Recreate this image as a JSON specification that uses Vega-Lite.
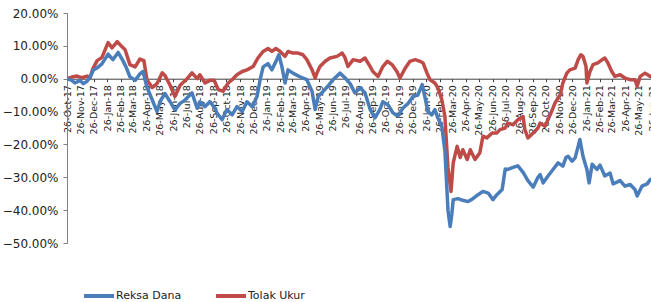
{
  "$schema": "https://vega.github.io/schema/vega-lite/v6.json",
  "autosize": {"type": "none"},
  "padding": {"left": 67, "top": 13, "right": 0, "bottom": 59},
  "width": 585,
  "height": 230,
  "background": "white",
  "config": {"view": {"stroke": null}, "font": "DejaVu Sans"},
  "data": {"values": [
    {"date":"2017-10-26","series":"Tolak Ukur","value":0},
    {"date":"2017-11-06","series":"Tolak Ukur","value":0.005},
    {"date":"2017-11-18","series":"Tolak Ukur","value":0.008},
    {"date":"2017-11-29","series":"Tolak Ukur","value":0.003},
    {"date":"2017-12-11","series":"Tolak Ukur","value":0.008},
    {"date":"2017-12-18","series":"Tolak Ukur","value":0.003},
    {"date":"2017-12-24","series":"Tolak Ukur","value":0.03},
    {"date":"2018-01-03","series":"Tolak Ukur","value":0.055},
    {"date":"2018-01-14","series":"Tolak Ukur","value":0.065},
    {"date":"2018-01-28","series":"Tolak Ukur","value":0.11},
    {"date":"2018-02-06","series":"Tolak Ukur","value":0.094},
    {"date":"2018-02-18","series":"Tolak Ukur","value":0.113},
    {"date":"2018-03-01","series":"Tolak Ukur","value":0.097},
    {"date":"2018-03-08","series":"Tolak Ukur","value":0.088},
    {"date":"2018-03-19","series":"Tolak Ukur","value":0.043},
    {"date":"2018-03-31","series":"Tolak Ukur","value":0.036},
    {"date":"2018-04-11","series":"Tolak Ukur","value":0.06},
    {"date":"2018-04-20","series":"Tolak Ukur","value":0.055},
    {"date":"2018-04-27","series":"Tolak Ukur","value":-0.003},
    {"date":"2018-05-09","series":"Tolak Ukur","value":-0.027},
    {"date":"2018-05-20","series":"Tolak Ukur","value":-0.015},
    {"date":"2018-06-01","series":"Tolak Ukur","value":0.018},
    {"date":"2018-06-07","series":"Tolak Ukur","value":0.01},
    {"date":"2018-06-19","series":"Tolak Ukur","value":-0.02},
    {"date":"2018-06-30","series":"Tolak Ukur","value":-0.054},
    {"date":"2018-07-12","series":"Tolak Ukur","value":-0.02},
    {"date":"2018-07-28","series":"Tolak Ukur","value":0},
    {"date":"2018-08-08","series":"Tolak Ukur","value":0.018},
    {"date":"2018-08-20","series":"Tolak Ukur","value":0},
    {"date":"2018-08-26","series":"Tolak Ukur","value":0.012},
    {"date":"2018-09-07","series":"Tolak Ukur","value":-0.013},
    {"date":"2018-09-18","series":"Tolak Ukur","value":-0.005},
    {"date":"2018-09-28","series":"Tolak Ukur","value":-0.005},
    {"date":"2018-10-07","series":"Tolak Ukur","value":-0.033},
    {"date":"2018-10-18","series":"Tolak Ukur","value":-0.038},
    {"date":"2018-10-30","series":"Tolak Ukur","value":-0.013},
    {"date":"2018-11-08","series":"Tolak Ukur","value":-0.003},
    {"date":"2018-11-19","series":"Tolak Ukur","value":0.012},
    {"date":"2018-12-01","series":"Tolak Ukur","value":0.022},
    {"date":"2018-12-12","series":"Tolak Ukur","value":0.027},
    {"date":"2018-12-26","series":"Tolak Ukur","value":0.037},
    {"date":"2019-01-06","series":"Tolak Ukur","value":0.063},
    {"date":"2019-01-18","series":"Tolak Ukur","value":0.083},
    {"date":"2019-01-29","series":"Tolak Ukur","value":0.092},
    {"date":"2019-02-07","series":"Tolak Ukur","value":0.083},
    {"date":"2019-02-16","series":"Tolak Ukur","value":0.092},
    {"date":"2019-02-26","series":"Tolak Ukur","value":0.083},
    {"date":"2019-03-09","series":"Tolak Ukur","value":0.068},
    {"date":"2019-03-16","series":"Tolak Ukur","value":0.083},
    {"date":"2019-03-27","series":"Tolak Ukur","value":0.078},
    {"date":"2019-04-08","series":"Tolak Ukur","value":0.078},
    {"date":"2019-04-19","series":"Tolak Ukur","value":0.073},
    {"date":"2019-04-28","series":"Tolak Ukur","value":0.058},
    {"date":"2019-05-10","series":"Tolak Ukur","value":0.027},
    {"date":"2019-05-17","series":"Tolak Ukur","value":0.002},
    {"date":"2019-05-21","series":"Tolak Ukur","value":0.017},
    {"date":"2019-05-28","series":"Tolak Ukur","value":0.037},
    {"date":"2019-06-09","series":"Tolak Ukur","value":0.053},
    {"date":"2019-06-20","series":"Tolak Ukur","value":0.063},
    {"date":"2019-07-06","series":"Tolak Ukur","value":0.068},
    {"date":"2019-07-18","series":"Tolak Ukur","value":0.078},
    {"date":"2019-07-24","series":"Tolak Ukur","value":0.065},
    {"date":"2019-07-31","series":"Tolak Ukur","value":0.037},
    {"date":"2019-08-12","series":"Tolak Ukur","value":0.058},
    {"date":"2019-08-28","series":"Tolak Ukur","value":0.053},
    {"date":"2019-09-08","series":"Tolak Ukur","value":0.063},
    {"date":"2019-09-20","series":"Tolak Ukur","value":0.037},
    {"date":"2019-09-26","series":"Tolak Ukur","value":0.022},
    {"date":"2019-10-08","series":"Tolak Ukur","value":0.007},
    {"date":"2019-10-19","series":"Tolak Ukur","value":0.037},
    {"date":"2019-10-29","series":"Tolak Ukur","value":0.053},
    {"date":"2019-11-09","series":"Tolak Ukur","value":0.043},
    {"date":"2019-11-20","series":"Tolak Ukur","value":0.022},
    {"date":"2019-11-27","series":"Tolak Ukur","value":0.002},
    {"date":"2019-12-09","series":"Tolak Ukur","value":0.032},
    {"date":"2019-12-20","series":"Tolak Ukur","value":0.053},
    {"date":"2020-01-01","series":"Tolak Ukur","value":0.058},
    {"date":"2020-01-12","series":"Tolak Ukur","value":0.053},
    {"date":"2020-01-19","series":"Tolak Ukur","value":0.048},
    {"date":"2020-01-28","series":"Tolak Ukur","value":0.017},
    {"date":"2020-02-04","series":"Tolak Ukur","value":-0.003},
    {"date":"2020-02-15","series":"Tolak Ukur","value":-0.013},
    {"date":"2020-02-22","series":"Tolak Ukur","value":-0.028},
    {"date":"2020-03-02","series":"Tolak Ukur","value":-0.064},
    {"date":"2020-03-09","series":"Tolak Ukur","value":-0.115},
    {"date":"2020-03-11","series":"Tolak Ukur","value":-0.16},
    {"date":"2020-03-16","series":"Tolak Ukur","value":-0.27},
    {"date":"2020-03-23","series":"Tolak Ukur","value":-0.343},
    {"date":"2020-03-28","series":"Tolak Ukur","value":-0.256},
    {"date":"2020-04-06","series":"Tolak Ukur","value":-0.206},
    {"date":"2020-04-13","series":"Tolak Ukur","value":-0.24},
    {"date":"2020-04-19","series":"Tolak Ukur","value":-0.216},
    {"date":"2020-04-29","series":"Tolak Ukur","value":-0.246},
    {"date":"2020-05-06","series":"Tolak Ukur","value":-0.216},
    {"date":"2020-05-17","series":"Tolak Ukur","value":-0.246},
    {"date":"2020-05-28","series":"Tolak Ukur","value":-0.225},
    {"date":"2020-06-04","series":"Tolak Ukur","value":-0.175},
    {"date":"2020-06-13","series":"Tolak Ukur","value":-0.18},
    {"date":"2020-06-25","series":"Tolak Ukur","value":-0.165},
    {"date":"2020-07-06","series":"Tolak Ukur","value":-0.165},
    {"date":"2020-07-13","series":"Tolak Ukur","value":-0.155},
    {"date":"2020-07-25","series":"Tolak Ukur","value":-0.15},
    {"date":"2020-07-31","series":"Tolak Ukur","value":-0.135},
    {"date":"2020-08-12","series":"Tolak Ukur","value":-0.14},
    {"date":"2020-08-23","series":"Tolak Ukur","value":-0.125},
    {"date":"2020-09-04","series":"Tolak Ukur","value":-0.115},
    {"date":"2020-09-08","series":"Tolak Ukur","value":-0.155},
    {"date":"2020-09-15","series":"Tolak Ukur","value":-0.18},
    {"date":"2020-09-27","series":"Tolak Ukur","value":-0.165},
    {"date":"2020-10-08","series":"Tolak Ukur","value":-0.15},
    {"date":"2020-10-13","series":"Tolak Ukur","value":-0.135},
    {"date":"2020-10-24","series":"Tolak Ukur","value":-0.145},
    {"date":"2020-11-05","series":"Tolak Ukur","value":-0.11},
    {"date":"2020-11-16","series":"Tolak Ukur","value":-0.074},
    {"date":"2020-11-28","series":"Tolak Ukur","value":-0.049},
    {"date":"2020-12-04","series":"Tolak Ukur","value":-0.013},
    {"date":"2020-12-13","series":"Tolak Ukur","value":0.017},
    {"date":"2020-12-20","series":"Tolak Ukur","value":0.027},
    {"date":"2021-01-01","series":"Tolak Ukur","value":0.032},
    {"date":"2021-01-08","series":"Tolak Ukur","value":0.058},
    {"date":"2021-01-14","series":"Tolak Ukur","value":0.073},
    {"date":"2021-01-19","series":"Tolak Ukur","value":0.068},
    {"date":"2021-01-26","series":"Tolak Ukur","value":0.037},
    {"date":"2021-01-28","series":"Tolak Ukur","value":-0.013},
    {"date":"2021-02-04","series":"Tolak Ukur","value":0.022},
    {"date":"2021-02-11","series":"Tolak Ukur","value":0.043},
    {"date":"2021-02-22","series":"Tolak Ukur","value":0.048},
    {"date":"2021-03-04","series":"Tolak Ukur","value":0.058},
    {"date":"2021-03-10","series":"Tolak Ukur","value":0.063},
    {"date":"2021-03-17","series":"Tolak Ukur","value":0.048},
    {"date":"2021-03-26","series":"Tolak Ukur","value":0.022},
    {"date":"2021-04-02","series":"Tolak Ukur","value":0.007},
    {"date":"2021-04-14","series":"Tolak Ukur","value":0.012},
    {"date":"2021-04-25","series":"Tolak Ukur","value":0.002},
    {"date":"2021-05-07","series":"Tolak Ukur","value":-0.003},
    {"date":"2021-05-18","series":"Tolak Ukur","value":-0.003},
    {"date":"2021-05-23","series":"Tolak Ukur","value":-0.023},
    {"date":"2021-05-30","series":"Tolak Ukur","value":0.007},
    {"date":"2021-06-10","series":"Tolak Ukur","value":0.017},
    {"date":"2021-06-22","series":"Tolak Ukur","value":0.007},
    {"date":"2021-06-26","series":"Tolak Ukur","value":0.005},
    {"date":"2017-10-26","series":"Reksa Dana","value":0},
    {"date":"2017-11-06","series":"Reksa Dana","value":-0.005},
    {"date":"2017-11-13","series":"Reksa Dana","value":-0.013},
    {"date":"2017-11-25","series":"Reksa Dana","value":-0.005},
    {"date":"2017-12-02","series":"Reksa Dana","value":-0.015},
    {"date":"2017-12-11","series":"Reksa Dana","value":-0.008},
    {"date":"2017-12-18","series":"Reksa Dana","value":0.005},
    {"date":"2017-12-26","series":"Reksa Dana","value":0.027},
    {"date":"2018-01-03","series":"Reksa Dana","value":0.033},
    {"date":"2018-01-14","series":"Reksa Dana","value":0.045},
    {"date":"2018-01-28","series":"Reksa Dana","value":0.075},
    {"date":"2018-02-08","series":"Reksa Dana","value":0.058},
    {"date":"2018-02-20","series":"Reksa Dana","value":0.08},
    {"date":"2018-03-03","series":"Reksa Dana","value":0.055},
    {"date":"2018-03-10","series":"Reksa Dana","value":0.036},
    {"date":"2018-03-19","series":"Reksa Dana","value":0.006},
    {"date":"2018-03-31","series":"Reksa Dana","value":-0.005},
    {"date":"2018-04-11","series":"Reksa Dana","value":0.015},
    {"date":"2018-04-18","series":"Reksa Dana","value":0.022},
    {"date":"2018-04-27","series":"Reksa Dana","value":-0.026},
    {"date":"2018-05-09","series":"Reksa Dana","value":-0.064},
    {"date":"2018-05-20","series":"Reksa Dana","value":-0.1},
    {"date":"2018-05-27","series":"Reksa Dana","value":-0.07},
    {"date":"2018-06-07","series":"Reksa Dana","value":-0.045},
    {"date":"2018-06-19","series":"Reksa Dana","value":-0.07},
    {"date":"2018-06-30","series":"Reksa Dana","value":-0.095},
    {"date":"2018-07-12","series":"Reksa Dana","value":-0.075},
    {"date":"2018-07-23","series":"Reksa Dana","value":-0.065},
    {"date":"2018-08-08","series":"Reksa Dana","value":-0.043},
    {"date":"2018-08-20","series":"Reksa Dana","value":-0.09},
    {"date":"2018-08-26","series":"Reksa Dana","value":-0.07},
    {"date":"2018-09-07","series":"Reksa Dana","value":-0.085},
    {"date":"2018-09-18","series":"Reksa Dana","value":-0.07},
    {"date":"2018-09-30","series":"Reksa Dana","value":-0.09},
    {"date":"2018-10-04","series":"Reksa Dana","value":-0.104},
    {"date":"2018-10-16","series":"Reksa Dana","value":-0.125},
    {"date":"2018-10-27","series":"Reksa Dana","value":-0.094},
    {"date":"2018-11-08","series":"Reksa Dana","value":-0.11},
    {"date":"2018-11-19","series":"Reksa Dana","value":-0.085},
    {"date":"2018-12-01","series":"Reksa Dana","value":-0.1},
    {"date":"2018-12-12","series":"Reksa Dana","value":-0.07},
    {"date":"2018-12-24","series":"Reksa Dana","value":-0.085},
    {"date":"2019-01-04","series":"Reksa Dana","value":-0.054},
    {"date":"2019-01-11","series":"Reksa Dana","value":-0.003},
    {"date":"2019-01-18","series":"Reksa Dana","value":0.036},
    {"date":"2019-01-29","series":"Reksa Dana","value":0.046},
    {"date":"2019-02-07","series":"Reksa Dana","value":0.027},
    {"date":"2019-02-16","series":"Reksa Dana","value":0.052},
    {"date":"2019-02-23","series":"Reksa Dana","value":0.073},
    {"date":"2019-03-02","series":"Reksa Dana","value":0.036},
    {"date":"2019-03-09","series":"Reksa Dana","value":-0.013},
    {"date":"2019-03-16","series":"Reksa Dana","value":0.027},
    {"date":"2019-03-27","series":"Reksa Dana","value":0.017},
    {"date":"2019-04-12","series":"Reksa Dana","value":0.006},
    {"date":"2019-04-28","series":"Reksa Dana","value":-0.003},
    {"date":"2019-05-10","series":"Reksa Dana","value":-0.039},
    {"date":"2019-05-17","series":"Reksa Dana","value":-0.094},
    {"date":"2019-05-24","series":"Reksa Dana","value":-0.054},
    {"date":"2019-06-04","series":"Reksa Dana","value":-0.039},
    {"date":"2019-06-15","series":"Reksa Dana","value":-0.023},
    {"date":"2019-06-27","series":"Reksa Dana","value":-0.003},
    {"date":"2019-07-13","series":"Reksa Dana","value":0.017},
    {"date":"2019-07-24","series":"Reksa Dana","value":0.003},
    {"date":"2019-08-05","series":"Reksa Dana","value":-0.015},
    {"date":"2019-08-16","series":"Reksa Dana","value":-0.043},
    {"date":"2019-08-28","series":"Reksa Dana","value":-0.028},
    {"date":"2019-09-08","series":"Reksa Dana","value":-0.043},
    {"date":"2019-09-20","series":"Reksa Dana","value":-0.094},
    {"date":"2019-10-01","series":"Reksa Dana","value":-0.119},
    {"date":"2019-10-12","series":"Reksa Dana","value":-0.094},
    {"date":"2019-10-19","series":"Reksa Dana","value":-0.07},
    {"date":"2019-10-31","series":"Reksa Dana","value":-0.08},
    {"date":"2019-11-11","series":"Reksa Dana","value":-0.104},
    {"date":"2019-11-22","series":"Reksa Dana","value":-0.114},
    {"date":"2019-12-04","series":"Reksa Dana","value":-0.089},
    {"date":"2019-12-16","series":"Reksa Dana","value":-0.075},
    {"date":"2019-12-27","series":"Reksa Dana","value":-0.054},
    {"date":"2020-01-07","series":"Reksa Dana","value":-0.05},
    {"date":"2020-01-17","series":"Reksa Dana","value":-0.018},
    {"date":"2020-01-23","series":"Reksa Dana","value":-0.054},
    {"date":"2020-01-30","series":"Reksa Dana","value":-0.1},
    {"date":"2020-02-08","series":"Reksa Dana","value":-0.11},
    {"date":"2020-02-15","series":"Reksa Dana","value":-0.094},
    {"date":"2020-02-22","series":"Reksa Dana","value":-0.12},
    {"date":"2020-03-02","series":"Reksa Dana","value":-0.146},
    {"date":"2020-03-09","series":"Reksa Dana","value":-0.22},
    {"date":"2020-03-14","series":"Reksa Dana","value":-0.347},
    {"date":"2020-03-16","series":"Reksa Dana","value":-0.4},
    {"date":"2020-03-21","series":"Reksa Dana","value":-0.45},
    {"date":"2020-03-25","series":"Reksa Dana","value":-0.41},
    {"date":"2020-03-28","series":"Reksa Dana","value":-0.368},
    {"date":"2020-04-08","series":"Reksa Dana","value":-0.365},
    {"date":"2020-04-19","series":"Reksa Dana","value":-0.37},
    {"date":"2020-05-01","series":"Reksa Dana","value":-0.374},
    {"date":"2020-05-12","series":"Reksa Dana","value":-0.365},
    {"date":"2020-05-24","series":"Reksa Dana","value":-0.353},
    {"date":"2020-06-04","series":"Reksa Dana","value":-0.343},
    {"date":"2020-06-16","series":"Reksa Dana","value":-0.348},
    {"date":"2020-06-27","series":"Reksa Dana","value":-0.368},
    {"date":"2020-07-06","series":"Reksa Dana","value":-0.353},
    {"date":"2020-07-18","series":"Reksa Dana","value":-0.337},
    {"date":"2020-07-25","series":"Reksa Dana","value":-0.275},
    {"date":"2020-07-31","series":"Reksa Dana","value":-0.276},
    {"date":"2020-08-12","series":"Reksa Dana","value":-0.27},
    {"date":"2020-08-23","series":"Reksa Dana","value":-0.265},
    {"date":"2020-09-04","series":"Reksa Dana","value":-0.285},
    {"date":"2020-09-15","series":"Reksa Dana","value":-0.31},
    {"date":"2020-09-27","series":"Reksa Dana","value":-0.33},
    {"date":"2020-10-08","series":"Reksa Dana","value":-0.3},
    {"date":"2020-10-13","series":"Reksa Dana","value":-0.292},
    {"date":"2020-10-20","series":"Reksa Dana","value":-0.317},
    {"date":"2020-10-31","series":"Reksa Dana","value":-0.296},
    {"date":"2020-11-11","series":"Reksa Dana","value":-0.277},
    {"date":"2020-11-23","series":"Reksa Dana","value":-0.256},
    {"date":"2020-12-04","series":"Reksa Dana","value":-0.266},
    {"date":"2020-12-11","series":"Reksa Dana","value":-0.24},
    {"date":"2020-12-16","series":"Reksa Dana","value":-0.236},
    {"date":"2020-12-25","series":"Reksa Dana","value":-0.251},
    {"date":"2021-01-01","series":"Reksa Dana","value":-0.241},
    {"date":"2021-01-08","series":"Reksa Dana","value":-0.206},
    {"date":"2021-01-12","series":"Reksa Dana","value":-0.185},
    {"date":"2021-01-19","series":"Reksa Dana","value":-0.236},
    {"date":"2021-01-28","series":"Reksa Dana","value":-0.276},
    {"date":"2021-02-02","series":"Reksa Dana","value":-0.317},
    {"date":"2021-02-09","series":"Reksa Dana","value":-0.26},
    {"date":"2021-02-20","series":"Reksa Dana","value":-0.276},
    {"date":"2021-02-27","series":"Reksa Dana","value":-0.263},
    {"date":"2021-03-10","series":"Reksa Dana","value":-0.296},
    {"date":"2021-03-22","series":"Reksa Dana","value":-0.287},
    {"date":"2021-03-29","series":"Reksa Dana","value":-0.32},
    {"date":"2021-04-14","series":"Reksa Dana","value":-0.31},
    {"date":"2021-04-25","series":"Reksa Dana","value":-0.327},
    {"date":"2021-05-07","series":"Reksa Dana","value":-0.322},
    {"date":"2021-05-18","series":"Reksa Dana","value":-0.337},
    {"date":"2021-05-23","series":"Reksa Dana","value":-0.357},
    {"date":"2021-06-03","series":"Reksa Dana","value":-0.327},
    {"date":"2021-06-15","series":"Reksa Dana","value":-0.32},
    {"date":"2021-06-22","series":"Reksa Dana","value":-0.307},
    {"date":"2021-06-26","series":"Reksa Dana","value":-0.305}
  ]},
  "mark": {"type": "line", "strokeWidth": 3.5, "clip": true, "strokeJoin": "round"},
  "encoding": {
    "x": {
      "field": "date", "type": "temporal",
      "scale": {"domain": [{"year": 2017, "month": 10, "date": 26}, {"year": 2021, "month": 6, "date": 26}]},
      "axis": {
        "title": null, "orient": "bottom", "offset": -164.3,
        "format": "%d-%b-%y", "labelAngle": -90, "labelFontSize": 9.5, "labelColor": "#222",
        "labelPadding": 3, "labelOverlap": false, "labelFlush": false, "grid": false,
        "domainColor": "#404040", "tickColor": "#404040", "tickSize": 3,
        "values": [
          {"year":2017,"month":10,"date":26},{"year":2017,"month":11,"date":26},{"year":2017,"month":12,"date":26},
          {"year":2018,"month":1,"date":26},{"year":2018,"month":2,"date":26},{"year":2018,"month":3,"date":26},
          {"year":2018,"month":4,"date":26},{"year":2018,"month":5,"date":26},{"year":2018,"month":6,"date":26},
          {"year":2018,"month":7,"date":26},{"year":2018,"month":8,"date":26},{"year":2018,"month":9,"date":26},
          {"year":2018,"month":10,"date":26},{"year":2018,"month":11,"date":26},{"year":2018,"month":12,"date":26},
          {"year":2019,"month":1,"date":26},{"year":2019,"month":2,"date":26},{"year":2019,"month":3,"date":26},
          {"year":2019,"month":4,"date":26},{"year":2019,"month":5,"date":26},{"year":2019,"month":6,"date":26},
          {"year":2019,"month":7,"date":26},{"year":2019,"month":8,"date":26},{"year":2019,"month":9,"date":26},
          {"year":2019,"month":10,"date":26},{"year":2019,"month":11,"date":26},{"year":2019,"month":12,"date":26},
          {"year":2020,"month":1,"date":26},{"year":2020,"month":2,"date":26},{"year":2020,"month":3,"date":26},
          {"year":2020,"month":4,"date":26},{"year":2020,"month":5,"date":26},{"year":2020,"month":6,"date":26},
          {"year":2020,"month":7,"date":26},{"year":2020,"month":8,"date":26},{"year":2020,"month":9,"date":26},
          {"year":2020,"month":10,"date":26},{"year":2020,"month":11,"date":26},{"year":2020,"month":12,"date":26},
          {"year":2021,"month":1,"date":26},{"year":2021,"month":2,"date":26},{"year":2021,"month":3,"date":26},
          {"year":2021,"month":4,"date":26},{"year":2021,"month":5,"date":26},{"year":2021,"month":6,"date":26}
        ]
      }
    },
    "y": {
      "field": "value", "type": "quantitative",
      "scale": {"domain": [-0.5, 0.2], "nice": false, "zero": false},
      "axis": {
        "title": null, "format": ".2%", "values": [-0.5, -0.4, -0.3, -0.2, -0.1, 0, 0.1, 0.2],
        "labelFontSize": 12, "labelColor": "#222", "labelPadding": 5, "grid": false,
        "domainColor": "#808080", "tickColor": "#808080", "tickSize": 4
      }
    },
    "color": {
      "field": "series", "type": "nominal",
      "scale": {"domain": ["Reksa Dana", "Tolak Ukur"], "range": ["#4A7EBB", "#BE4B48"]},
      "legend": {
        "title": null, "orient": "none", "direction": "horizontal",
        "legendX": 15, "legendY": 266,
        "symbolType": "stroke", "symbolSize": 900, "symbolStrokeWidth": 4,
        "labelFontSize": 11, "labelColor": "#222", "labelOffset": 0, "columnPadding": 26
      }
    },
    "order": {"field": "date", "type": "temporal"}
  }
}
